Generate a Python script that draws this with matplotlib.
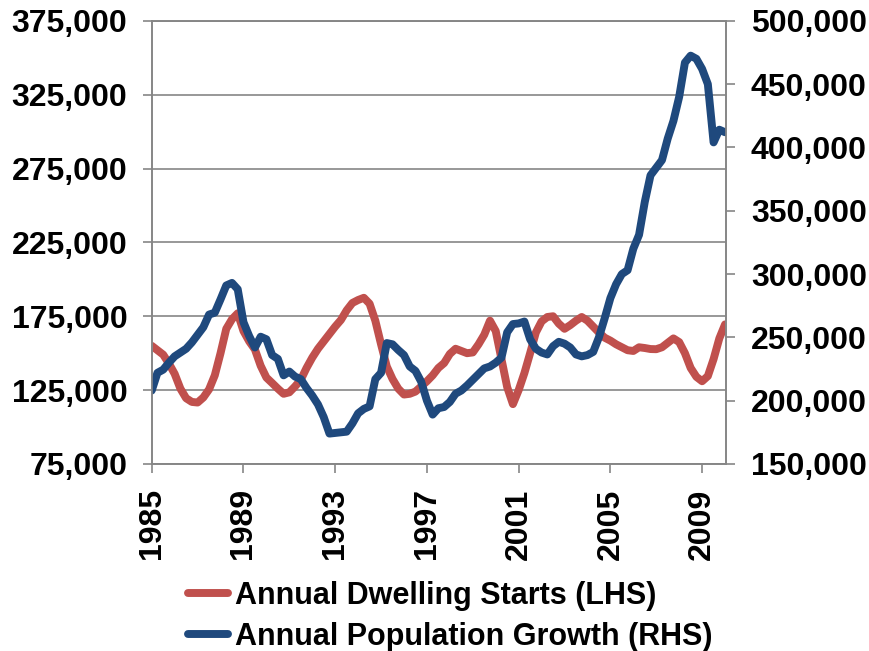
import numpy as np
import matplotlib
matplotlib.use("Agg")
import matplotlib.pyplot as plt
from matplotlib.ticker import FuncFormatter

plt.rcParams['font.family'] = ['Liberation Sans', 'DejaVu Sans']
plt.rcParams['font.weight'] = 'bold'

# quarterly series, 1985 Q1 .. 2010 Q1 (thousands)
dwelling_starts_k = [
    155, 152, 149, 143, 136, 126, 119.5, 117, 116.6, 120,
    125.5, 135, 150, 166.5, 173, 177, 165, 158, 152.5, 141.5,
    133.5, 129.8, 126, 122.5, 123.5, 127.5, 132, 140, 147, 153,
    158, 163, 168, 172.5, 179, 184, 186, 187.5, 183.5, 172,
    156, 141, 132.5, 126, 122, 122.5, 124, 127.5, 131, 135,
    140, 143.3, 149.5, 153, 151.5, 150, 150.5, 156, 162.5, 172,
    165, 146, 127, 115.5, 125, 136.5, 150, 164, 171.5, 174.5,
    175, 170, 166.5, 169, 172, 174.5, 172, 168, 164, 160.5,
    158.5, 156, 154, 152, 151.5, 154, 153.5, 152.8, 152.7, 154,
    157, 160, 157.5, 150, 140, 134, 131, 134.5, 146, 160,
    169.5,
]
population_growth_k = [
    208, 222, 224.5, 230, 235, 238, 241, 246, 252, 258,
    268, 269.5, 280, 291, 293, 288, 262, 251, 242, 250.5,
    248.5, 236, 233, 220, 223, 219, 217, 210, 204, 197,
    187, 174, 174.5, 175, 175.5, 182, 190, 193.5, 195.5, 217,
    222, 245.5, 244.5, 240, 236, 227, 223.5, 215, 200, 189,
    194, 195, 199, 205.5, 208, 212, 216.5, 221, 225.5, 227,
    230, 234, 254, 260.5, 261, 262.5, 248.5, 241, 238, 236.5,
    243, 246.5, 245, 242, 236.5, 235, 236, 238.5, 250, 265,
    281, 292, 300, 303, 320, 331, 357, 378, 384, 390,
    407, 421, 440, 467, 472.5, 470, 462, 450, 404, 414,
    412,
]
first_year = 1985
tick_years = [1985, 1989, 1993, 1997, 2001, 2005, 2009]
series_names = ['Annual Dwelling Starts (LHS)', 'Annual Population Growth (RHS)']

red = '#C0504D'
blue = '#1F497D'
grey = '#868686'
fs = 23
legend_fs = 22

starts = np.array(dwelling_starts_k) * 1000
growth = np.array(population_growth_k) * 1000
x = np.arange(len(starts))

fig = plt.figure(figsize=(8.69, 6.51), dpi=100)
ax = fig.add_axes([0.1746, 0.2873, 0.836 - 0.1746, 0.968 - 0.2873])
ax2 = ax.twinx()

l1, = ax.plot(x, starts, color=red, lw=5.7, solid_joinstyle='round',
              solid_capstyle='round', label=series_names[0])
l2, = ax2.plot(x, growth, color=blue, lw=5.7, solid_joinstyle='round',
               solid_capstyle='round', label=series_names[1])

ax.set_xlim(0, 100.25)
ax.set_ylim(75000, 375000)
ax.set_yticks(np.arange(75000, 375001, 50000))
ax2.set_ylim(150000, 500000)
ax2.set_yticks(np.arange(150000, 500001, 50000))

comma = FuncFormatter(lambda v, p: f'{int(v):,}')
ax.yaxis.set_major_formatter(comma)
ax2.yaxis.set_major_formatter(comma)

ax.set_xticks([(y - first_year) * 4 for y in tick_years])
ax.set_xticklabels([str(y) for y in tick_years], rotation=90)

ax.grid(axis='y', color=grey, lw=1.2)
ax.set_axisbelow(True)
for a in (ax, ax2):
    for s in a.spines.values():
        s.set_color(grey)
        s.set_linewidth(1.2)
    a.tick_params(colors=grey, labelcolor='black', length=6.5, width=1.2,
                  pad=11, labelsize=fs)
for lab in ax.get_xticklabels() + ax.get_yticklabels() + ax2.get_yticklabels():
    lab.set_fontweight('bold')

fig.legend(handles=[l1, l2], loc='upper left', bbox_to_anchor=(0.2163, 0.1075),
           frameon=False, borderpad=0, borderaxespad=0,
           handlelength=1.3, handletextpad=0.25, labelspacing=0.36,
           prop={'weight': 'bold', 'size': legend_fs})

fig.savefig('out.png', dpi=100)
